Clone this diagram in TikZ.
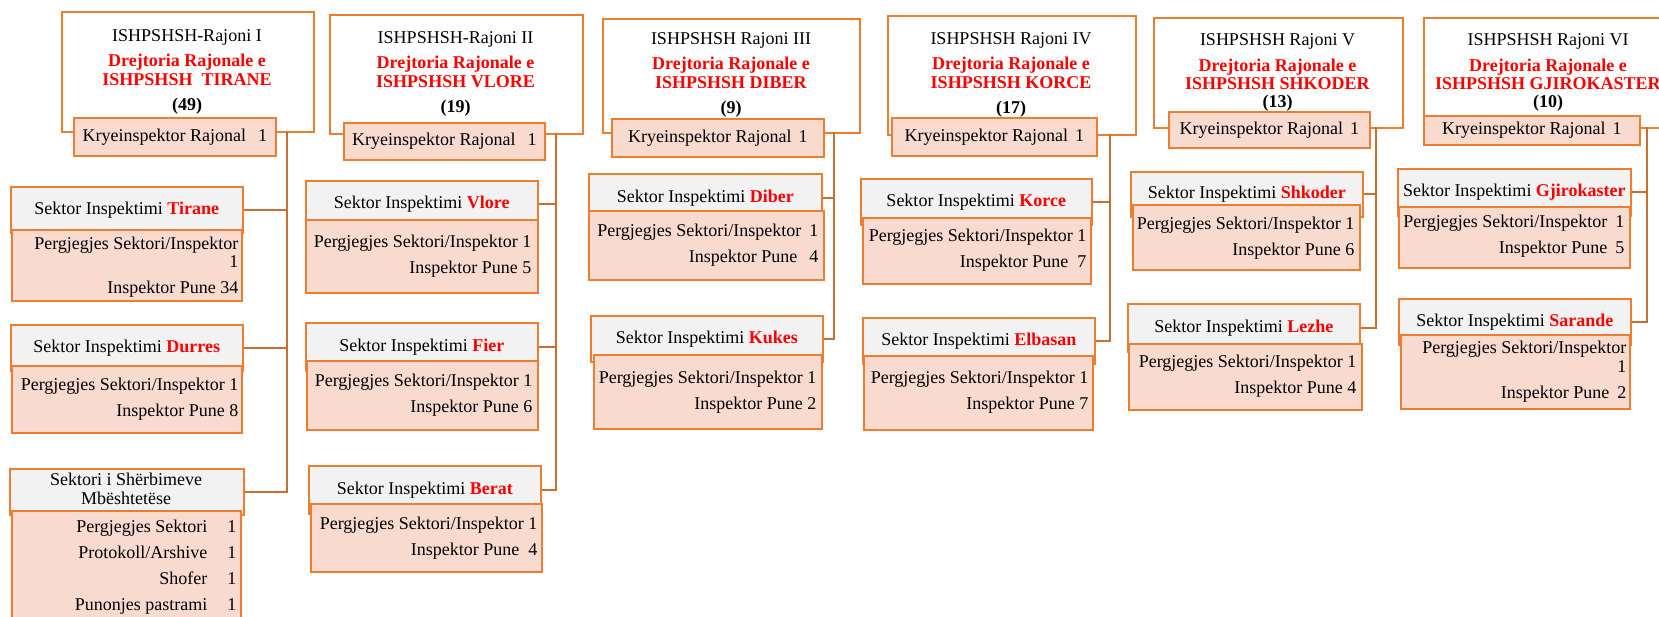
\documentclass[tikz,border=0pt]{standalone}
\usepackage{fontspec}
\setmainfont{Liberation Serif}
\definecolor{borange}{RGB}{237,125,49}
\definecolor{conncol}{RGB}{200,112,52}
\definecolor{bodyfill}{RGB}{248,218,207}
\definecolor{hdrgray}{RGB}{242,242,242}
\definecolor{redtxt}{RGB}{255,0,0}
\newcommand\fs{\fontsize{18}{18}\selectfont}
\newcommand\rd[1]{\textcolor{redtxt}{\textbf{#1}}}
\tikzset{
  basebox/.style={draw=borange, line width=1.6pt, inner sep=0pt, anchor=north west, font=\fs},
  regbox/.style={basebox, fill=white},
  kryebox/.style={basebox, fill=bodyfill},
  secbox/.style={basebox, fill=hdrgray},
  bodybox/.style={basebox, fill=bodyfill},
  conn/.style={draw=conncol, line width=1.8pt},
  txt/.style={inner sep=0pt, font=\fs},
}
\newcommand\bx[7]{\node[#1, minimum width={(#5-#3)*1pt}, minimum height={(#6-#4)*1pt}] (#2) at (#3,#4) {#7};}
\newcommand\btx[4]{\node[txt,anchor=base east] (#1t) at ([xshift=-#2pt,yshift=-#3pt]#1.north east) {\begin{tabular}[t]{@{}r@{}}#4\end{tabular}};}
\newcommand\htx[9]{\node[txt,anchor=base] (#1) at (#2,#3) {\begin{tabular}[t]{@{}c@{}}#4\\[#7pt]\rd{Drejtoria Rajonale e}\\[#8pt]\rd{#5}\\[#9pt]\textbf{#6}\end{tabular}};}
\begin{document}
\begin{tikzpicture}[x=1pt,y=-1pt]
\useasboundingbox (0,0) rectangle (1659,617);
\clip (0,0) rectangle (1659,617);

% ---------------- Region I
\bx{regbox}{h1}{61}{11}{313}{131}{}
\htx{h1t}{187}{42}{ISHPSHSH-Rajoni I}{ISHPSHSH\ \ TIRANE}{(49)}{7}{1}{7}
\bx{kryebox}{k1}{73}{117}{275}{155}{Kryeinspektor Rajonal\hspace{12pt}1}
\bx{secbox}{s1a}{10}{186}{242}{232}{Sektor Inspektimi \rd{Tirane}}
\bx{bodybox}{b1a}{11}{229}{241}{300}{}
\btx{b1a}{4}{21}{Pergjegjes Sektori/Inspektor\\1\\[8pt]Inspektor Pune 34}
\bx{secbox}{s1b}{10}{324}{242}{370}{Sektor Inspektimi \rd{Durres}}
\bx{bodybox}{b1b}{11}{365}{241}{432}{}
\btx{b1b}{4}{25}{Pergjegjes Sektori/Inspektor 1\\[8pt]Inspektor Pune 8}
\bx{secbox}{s1c}{9}{468}{243}{514}{}
\node[txt,anchor=base] (s1ct) at (126,485) {\begin{tabular}[t]{@{}c@{}}Sektori i Shërbimeve\\[1pt]Mbështetëse\end{tabular}};
\bx{bodybox}{b1c}{11}{510}{240}{640}{}
\btx{b1c}{5}{22}{Pergjegjes Sektori\hspace{20pt}1\\[8pt]Protokoll/Arshive\hspace{20pt}1\\[8pt]Shofer\hspace{20pt}1\\[8pt]Punonjes pastrami\hspace{20pt}1}

% ---------------- Region II
\bx{regbox}{h2}{329}{14}{582}{133}{}
\htx{h2t}{455.5}{44}{ISHPSHSH-Rajoni II}{ISHPSHSH VLORE}{(19)}{7}{1}{7}
\bx{kryebox}{k2}{343}{122}{544}{159}{Kryeinspektor Rajonal\hspace{12pt}1}
\bx{secbox}{s2a}{305}{180}{537}{226}{Sektor Inspektimi \rd{Vlore}}
\bx{bodybox}{b2a}{305}{219}{537}{292}{}
\btx{b2a}{7}{29}{Pergjegjes Sektori/Inspektor 1\\[8pt]Inspektor Pune 5}
\bx{secbox}{s2b}{305}{322}{537}{370}{Sektor Inspektimi \rd{Fier}}
\bx{bodybox}{b2b}{306}{360}{537}{429}{}
\btx{b2b}{6}{26}{Pergjegjes Sektori/Inspektor 1\\[8pt]Inspektor Pune 6}
\bx{secbox}{s2c}{308}{465}{540}{513}{Sektor Inspektimi \rd{Berat}}
\bx{bodybox}{b2c}{310}{503}{541}{571}{}
\btx{b2c}{5}{26}{Pergjegjes Sektori/Inspektor 1\\[8pt]Inspektor Pune\hspace{9pt}4}

% ---------------- Region III
\bx{regbox}{h3}{602}{18}{859}{132}{}
\htx{h3t}{731}{45}{ISHPSHSH Rajoni III}{ISHPSHSH DIBER}{(9)}{7}{1}{7}
\bx{kryebox}{k3}{611}{118}{823}{156}{Kryeinspektor Rajonal\hspace{7pt}1}
\bx{secbox}{s3a}{588}{173}{821}{221}{Sektor Inspektimi \rd{Diber}}
\bx{bodybox}{b3a}{588}{210}{823}{279}{}
\btx{b3a}{6}{27}{Pergjegjes Sektori/Inspektor\hspace{8pt}1\\[8pt]Inspektor Pune\hspace{12pt}4}
\bx{secbox}{s3b}{590}{315}{822}{361}{Sektor Inspektimi \rd{Kukes}}
\bx{bodybox}{b3b}{593}{354}{821}{428}{}
\btx{b3b}{6}{29}{Pergjegjes Sektori/Inspektor 1\\[8pt]Inspektor Pune 2}

% ---------------- Region IV
\bx{regbox}{h4}{887}{15}{1135}{134}{}
\htx{h4t}{1011}{45}{ISHPSHSH Rajoni IV}{ISHPSHSH KORCE}{(17)}{7}{1}{7}
\bx{kryebox}{k4}{891}{117}{1096}{155}{Kryeinspektor Rajonal\hspace{7pt}1}
\bx{secbox}{s4a}{860}{178}{1091}{224}{Sektor Inspektimi \rd{Korce}}
\bx{bodybox}{b4a}{862}{217}{1090}{283}{}
\btx{b4a}{5}{25}{Pergjegjes Sektori/Inspektor 1\\[8pt]Inspektor Pune\hspace{9pt}7}
\bx{secbox}{s4b}{862}{317}{1094}{363}{Sektor Inspektimi \rd{Elbasan}}
\bx{bodybox}{b4b}{863}{355}{1092}{429}{}
\btx{b4b}{5}{28}{Pergjegjes Sektori/Inspektor 1\\[8pt]Inspektor Pune 7}

% ---------------- Region V
\bx{regbox}{h5}{1153}{17}{1402}{127}{}
\htx{h5t}{1277.5}{46}{ISHPSHSH Rajoni V}{ISHPSHSH SHKODER}{(13)}{8}{0}{0}
\bx{kryebox}{k5}{1168}{111}{1369}{147}{Kryeinspektor Rajonal\hspace{7pt}1}
\bx{secbox}{s5a}{1130}{171}{1362}{216}{Sektor Inspektimi \rd{Shkoder}}
\bx{bodybox}{b5a}{1132}{204}{1359}{269}{}
\btx{b5a}{6}{26}{Pergjegjes Sektori/Inspektor 1\\[8pt]Inspektor Pune 6}
\bx{secbox}{s5b}{1127}{303}{1359}{351}{Sektor Inspektimi \rd{Lezhe}}
\bx{bodybox}{b5b}{1128}{343}{1361}{409}{}
\btx{b5b}{6}{24}{Pergjegjes Sektori/Inspektor 1\\[8pt]Inspektor Pune 4}

% ---------------- Region VI
\bx{regbox}{h6}{1423}{17}{1673}{127}{}
\htx{h6t}{1548}{46}{ISHPSHSH Rajoni VI}{ISHPSHSH GJIROKASTER}{(10)}{8}{0}{0}
\bx{kryebox}{k6}{1423}{115}{1639}{144}{Kryeinspektor Rajonal\hspace{7pt}1}
\bx{secbox}{s6a}{1397}{168}{1630}{215}{Sektor Inspektimi \rd{Gjirokaster}}
\bx{bodybox}{b6a}{1398}{206}{1629}{267}{}
\btx{b6a}{6}{22}{Pergjegjes Sektori/Inspektor\hspace{8pt}1\\[8pt]Inspektor Pune\hspace{8pt}5}
\bx{secbox}{s6b}{1398}{298}{1630}{344}{Sektor Inspektimi \rd{Sarande}}
\bx{bodybox}{b6b}{1400}{334}{1629}{408}{}
\btx{b6b}{4}{19}{Pergjegjes Sektori/Inspektor\\[1pt]1\\[8pt]Inspektor Pune\hspace{8pt}2}

% ---------------- Connectors
\coordinate (t1) at (287,131);
\coordinate (t2) at (556,133);
\coordinate (t3) at (834,132);
\coordinate (t4) at (1110,134);
\coordinate (t5) at (1376,127);
\coordinate (t6) at (1647,127);
\draw[conn] (t1) |- (s1c.east);
\draw[conn] (s1a.east) -- (s1a.east -| t1);
\draw[conn] (s1b.east) -- (s1b.east -| t1);
\draw[conn] (t2) |- (s2c.east);
\draw[conn] (s2a.east) -- (s2a.east -| t2);
\draw[conn] (s2b.east) -- (s2b.east -| t2);
\draw[conn] (t3) |- (s3b.east);
\draw[conn] (s3a.east) -- (s3a.east -| t3);
\draw[conn] (t4) |- (s4b.east);
\draw[conn] (s4a.east) -- (s4a.east -| t4);
\draw[conn] (t5) |- (s5b.east);
\draw[conn] (s5a.east) -- (s5a.east -| t5);
\draw[conn] (t6) |- (s6b.east);
\draw[conn] (s6a.east) -- (s6a.east -| t6);
\end{tikzpicture}
\end{document}
